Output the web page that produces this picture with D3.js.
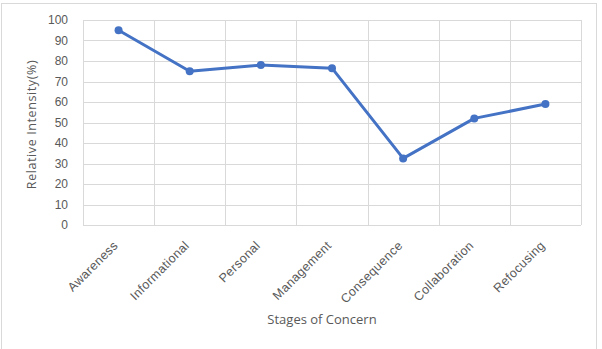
<!DOCTYPE html>
<html>
<head>
<meta charset="utf-8">
<script src="https://cdn.jsdelivr.net/npm/d3@7"></script>
<style>
  body { margin: 0; background: #fff; }
  svg { display: block; font-family: "Open Sans", sans-serif; }
</style>
</head>
<body>
<svg id="drawing_region"></svg>
<script>
const stages = ['Awareness', 'Informational', 'Personal', 'Management', 'Consequence', 'Collaboration', 'Refocusing'];
const intensity = [95, 75, 78, 76.5, 32.5, 52, 59];
const yTicks = [0, 10, 20, 30, 40, 50, 60, 70, 80, 90, 100];

const config = {
    width: 602,
    height: 349,
    margin: {top: 20, right: 21, bottom: 124, left: 83}
};

const svg = d3.select('#drawing_region')
    .attr('width', config.width)
    .attr('height', config.height);

// outer chart border
svg.append('rect')
    .attr('x', 1.5).attr('y', 3.5)
    .attr('width', 595).attr('height', 360)
    .attr('fill', 'none')
    .attr('stroke', '#d9d9d9');

const inner_w = config.width - config.margin.left - config.margin.right;
const inner_h = config.height - config.margin.top - config.margin.bottom;

const chart = svg.append('g')
    .attr('transform', `translate(${config.margin.left}, ${config.margin.top})`);

const x = d3.scaleBand().domain(stages).range([0, inner_w]);
const y = d3.scaleLinear().domain([0, 100]).range([inner_h, 0]);

// horizontal grid
chart.append('g')
    .selectAll('line')
    .data(yTicks)
    .join('line')
    .attr('x1', 0).attr('x2', inner_w)
    .attr('y1', d => Math.round(y(d)) + 0.5)
    .attr('y2', d => Math.round(y(d)) + 0.5)
    .attr('stroke', '#d9d9d9');

// vertical grid at band boundaries
const bounds = stages.map(s => x(s)).concat([inner_w]);
chart.append('g')
    .selectAll('line')
    .data(bounds)
    .join('line')
    .attr('x1', d => Math.round(d) + 0.5).attr('x2', d => Math.round(d) + 0.5)
    .attr('y1', 0).attr('y2', inner_h)
    .attr('stroke', '#d9d9d9');

// y axis
const yAxis = chart.append('g')
    .call(d3.axisLeft(y).tickValues(yTicks).tickSize(0).tickPadding(15));
yAxis.select('.domain').remove();
yAxis.selectAll('text')
    .attr('fill', '#595959')
    .style('font-size', '12px');

// x axis
const xAxis = chart.append('g')
    .attr('transform', `translate(0, ${inner_h})`)
    .call(d3.axisBottom(x).tickSize(0));
xAxis.select('.domain').remove();
xAxis.selectAll('text')
    .attr('fill', '#595959')
    .style('font-size', '12.5px')
    .style('letter-spacing', '0.4px')
    .attr('text-anchor', 'end')
    .attr('dy', '0.35em')
    .attr('transform', 'translate(-5, 16) rotate(-45)');

// axis titles
svg.append('text')
    .attr('transform', `translate(36, ${config.margin.top + inner_h / 2 + 2}) rotate(-90)`)
    .attr('text-anchor', 'middle')
    .attr('fill', '#595959')
    .style('font-size', '12.5px')
    .style('letter-spacing', '0.6px')
    .text('Relative Intensity(%)');

svg.append('text')
    .attr('x', 322)
    .attr('y', 324)
    .attr('text-anchor', 'middle')
    .attr('fill', '#595959')
    .style('font-size', '13px')
    .text('Stages of Concern');

// series line
const line = d3.line()
    .x((d, i) => x(stages[i]) + x.bandwidth() / 2)
    .y(d => y(d));

chart.append('path')
    .datum(intensity)
    .attr('d', line)
    .attr('fill', 'none')
    .attr('stroke', '#4472c4')
    .attr('stroke-width', 3)
    .attr('stroke-linejoin', 'round');

chart.append('g')
    .selectAll('circle')
    .data(intensity)
    .join('circle')
    .attr('cx', (d, i) => x(stages[i]) + x.bandwidth() / 2)
    .attr('cy', d => y(d))
    .attr('r', 4)
    .attr('fill', '#4472c4');
</script>
</body>
</html>
